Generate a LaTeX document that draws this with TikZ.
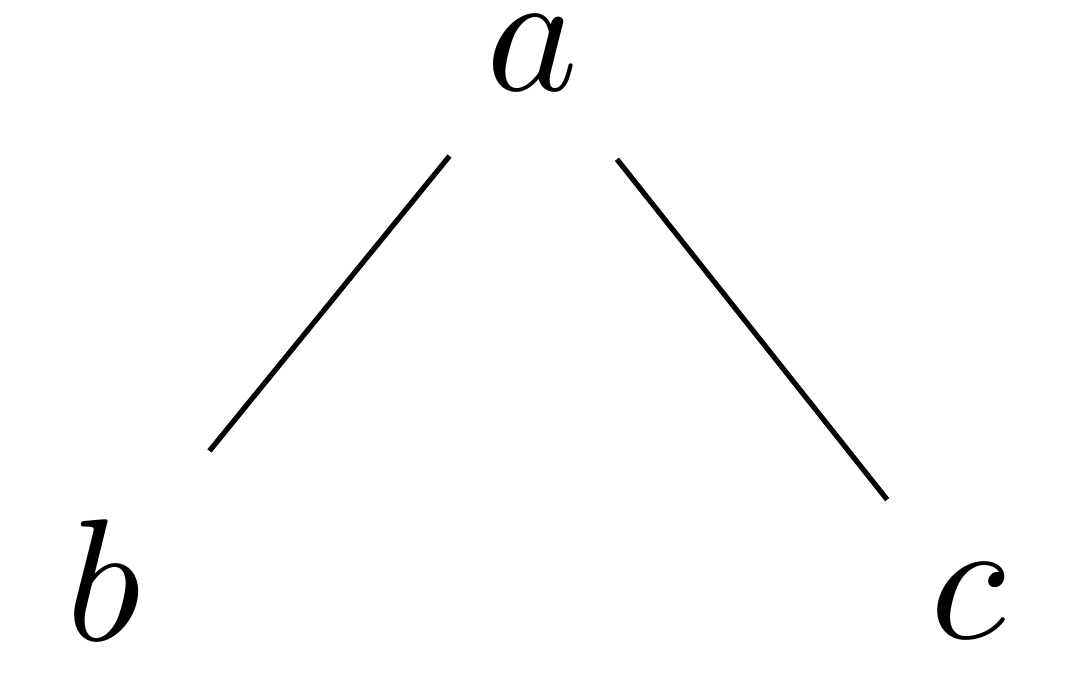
\documentclass[tikz,border=0pt]{standalone}
\begin{document}
\begin{tikzpicture}[x=0.05747pt,y=-0.05747pt,
  lbl/.style={inner sep=0pt,outer sep=0pt,anchor=base},
  edge/.style={line width=0.3pt,black}]
\useasboundingbox (0,0) rectangle (1070,675);
\node[lbl] (a) at (533,91) {$a$};
\node[lbl] (b) at (104,641) {$b$};
\node[lbl] (c) at (968,639) {$c$};
\draw[edge,shorten <=7.6pt,shorten >=9.6pt] (a.center) -- (b.center);
\draw[edge,shorten <=7.76pt,shorten >=7.47pt] (a.center) -- (c.center);
\end{tikzpicture}
\end{document}
